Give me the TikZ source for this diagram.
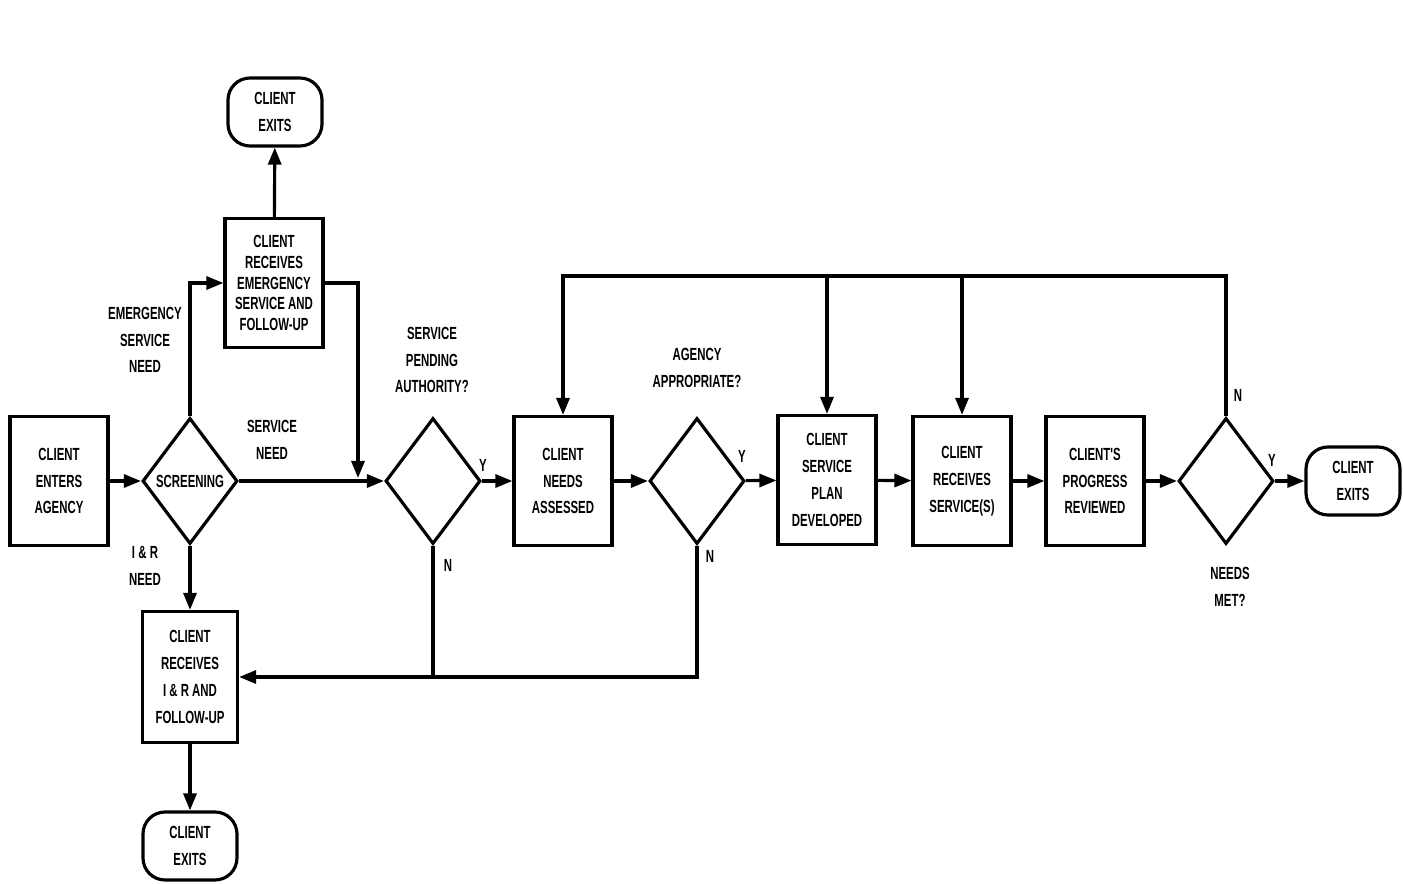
\documentclass[tikz,border=0pt]{standalone}
\usepackage{fontspec}
\newfontfamily\chartfont[FakeStretch=0.65]{Liberation Sans}
\usetikzlibrary{shapes.geometric, positioning, arrows.meta}

\tikzset{
  every node/.style={font=\chartfont\bfseries\fontsize{5}{7.6}\selectfont, align=center},
  procbox/.style={rectangle, draw, line width=0.9pt, minimum width=0.98cm, minimum height=1.29cm, inner sep=0pt},
  decision/.style={diamond, draw, line width=0.9pt, minimum width=0.95cm, minimum height=1.26cm, inner sep=0pt},
  terminal/.style={rectangle, rounded corners=0.22cm, draw, line width=0.9pt, minimum width=0.94cm, minimum height=0.68cm, inner sep=0pt},
  flow/.style={line width=0.9pt, -{Triangle[length=0.17cm, width=0.13cm]}},
  plain/.style={line width=0.9pt},
}

\begin{document}
\begin{tikzpicture}
    \path[fill=white, use as bounding box] (0,0) rectangle (14.03,-8.84);

    % main row
    \node[procbox] (enter) at (0.59,-4.81) {CLIENT\\ENTERS\\AGENCY};
    \node[decision] (screen) at (1.90,-4.81) {SCREENING};
    \node[decision] (auth) at (4.33,-4.81) {};
    \node[procbox] (assess) at (5.63,-4.81) {CLIENT\\NEEDS\\ASSESSED};
    \node[decision] (agency) at (6.97,-4.81) {};
    \node[procbox] (plan) at (8.27,-4.80) {CLIENT\\SERVICE\\PLAN\\DEVELOPED};
    \node[procbox] (recv) at (9.62,-4.81) {CLIENT\\RECEIVES\\SERVICE(S)};
    \node[procbox] (review) at (10.95,-4.81) {CLIENT'S\\PROGRESS\\REVIEWED};
    \node[decision] (met) at (12.26,-4.81) {};
    \node[terminal] (exitR) at (13.53,-4.81) {CLIENT\\EXITS};

    % emergency branch
    \node[procbox, font=\chartfont\bfseries\fontsize{5}{5.9}\selectfont] (emerg) at (2.74,-2.83) {CLIENT\\RECEIVES\\EMERGENCY\\SERVICE AND\\FOLLOW-UP};
    \node[terminal] (exitT) at (2.75,-1.12) {CLIENT\\EXITS};

    % I & R branch
    \node[procbox, minimum width=0.95cm, minimum height=1.31cm] (inforef) at (1.90,-6.77) {CLIENT\\RECEIVES\\I \& R AND\\FOLLOW-UP};
    \node[terminal] (exitB) at (1.90,-8.46) {CLIENT\\EXITS};

    \coordinate (emjoin) at (3.58,-4.78);
    \coordinate (fb) at (5.63,-2.76);

    % labels
    \node (lemerg) at (1.45,-3.40) {EMERGENCY\\SERVICE\\NEED};
    \node (lsvc) at (2.72,-4.40) {SERVICE\\NEED};
    \node (lauth) at (4.32,-3.60) {SERVICE\\PENDING\\AUTHORITY?};
    \node (lagency) at (6.97,-3.68) {AGENCY\\APPROPRIATE?};
    \node (lir) at (1.45,-5.66) {I \& R\\NEED};
    \node (lmet) at (12.30,-5.87) {NEEDS\\MET?};
    \node (ya) at (4.83,-4.65) {Y};
    \node (yb) at (7.42,-4.56) {Y};
    \node (yc) at (12.72,-4.60) {Y};
    \node (na) at (4.48,-5.65) {N};
    \node (nb) at (7.10,-5.56) {N};
    \node (nc) at (12.38,-3.95) {N};

    % connectors
    \draw[flow] (enter) -- (screen);
    \draw[flow] (screen.north) |- (emerg.west);
    \draw[flow] (emerg) -- (exitT);
    \draw[flow] (emerg.east) -| (emjoin);
    \draw[flow] (screen) -- (auth);
    \draw[flow] (auth) -- (assess);
    \draw[flow] (assess) -- (agency);
    \draw[flow] (agency) -- (plan);
    \draw[flow] (plan) -- (recv);
    \draw[flow] (recv) -- (review);
    \draw[flow] (review) -- (met);
    \draw[flow] (met) -- (exitR);
    \draw[flow] (screen) -- (inforef);
    \draw[flow] (inforef) -- (exitB);
    \draw[flow] (agency.south) |- (inforef.east);
    \draw[plain] (auth.south) -- (auth.south |- inforef.east);
    \draw[flow] (met.north) |- (fb) -- (assess.north);
    \draw[flow] (plan.north |- fb) -- (plan.north);
    \draw[flow] (recv.north |- fb) -- (recv.north);
\end{tikzpicture}
\end{document}
